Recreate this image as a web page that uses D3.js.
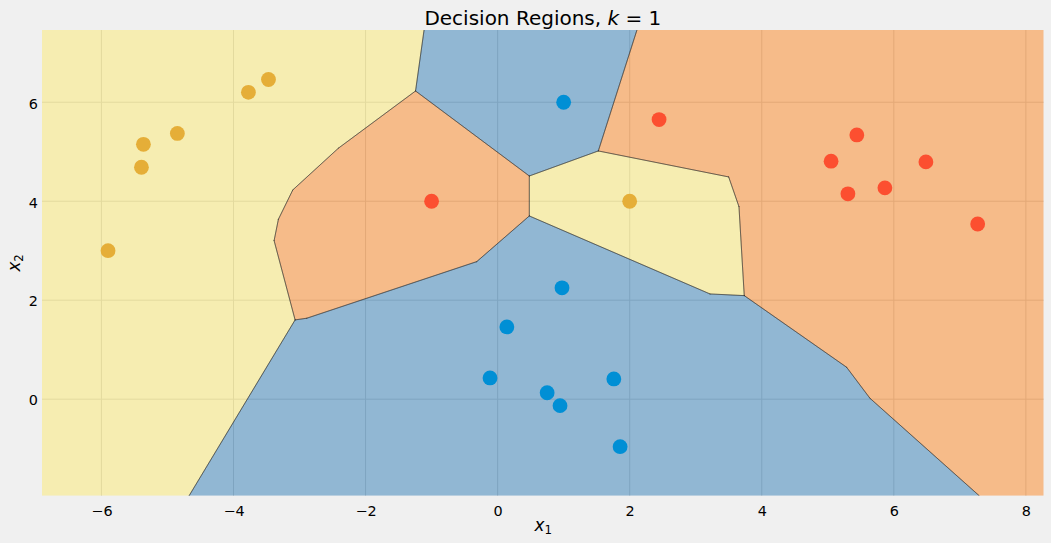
<!DOCTYPE html>
<html>
<head>
<meta charset="utf-8">
<script src="https://cdn.jsdelivr.net/npm/d3@7"></script>
<style>
    body { margin: 0; background: #f0f0f0; }
    svg { display: block; font-family: "DejaVu Sans"; }
</style>
</head>
<body>
<script>
const X_MIN = -6.9, X_MAX = 8.27, Y_MIN = -1.95, Y_MAX = 7.46;

const xTicks = [-6, -4, -2, 0, 2, 4, 6, 8];
const yTicks = [0, 2, 4, 6];

// decision regions (data coordinates)
const yellowLeft = [[X_MIN, Y_MAX], [-1.114, Y_MAX], [-1.243, 6.228], [-2.412, 5.071], [-3.102, 4.228], [-3.32, 3.636], [-3.385, 3.204], [-3.067, 1.602], [-4.672, Y_MIN], [X_MIN, Y_MIN]];
const blueTop = [[-1.114, Y_MAX], [-1.243, 6.228], [0.48, 4.51], [1.525, 5.016], [2.11, Y_MAX]];
const orangeMid = [[-1.243, 6.228], [0.48, 4.51], [0.48, 3.703], [-0.316, 2.78], [-2.89, 1.636], [-3.067, 1.602], [-3.385, 3.204], [-3.32, 3.636], [-3.102, 4.228], [-2.412, 5.071]];
const yellowMid = [[0.48, 4.51], [1.525, 5.016], [3.499, 4.491], [3.655, 3.891], [3.735, 2.093], [3.216, 2.127], [0.48, 3.703]];
const blueBottom = [[-3.067, 1.602], [-2.89, 1.636], [-0.316, 2.78], [0.48, 3.703], [3.216, 2.127], [3.735, 2.093], [5.285, 0.646], [5.638, 0.02], [7.293, Y_MIN], [-4.672, Y_MIN]];
const orangeRight = [[2.11, Y_MAX], [1.525, 5.016], [3.499, 4.491], [3.655, 3.891], [3.735, 2.093], [5.285, 0.646], [5.638, 0.02], [7.293, Y_MIN], [X_MAX, Y_MIN], [X_MAX, Y_MAX]];

const regions = [
    { points: yellowLeft, color: "rgb(252,234,114)" },
    { points: blueTop, color: "rgb(50,126,182)" },
    { points: orangeMid, color: "rgb(252,134,34)" },
    { points: yellowMid, color: "rgb(252,234,114)" },
    { points: blueBottom, color: "rgb(50,126,182)" },
    { points: orangeRight, color: "rgb(252,134,34)" },
];

// training points
const bluePoints = [[1, 6], [0.975, 2.25], [0.14, 1.46], [-0.115, 0.43], [0.75, 0.13], [0.945, -0.13], [1.76, 0.41], [1.855, -0.96]];
const redPoints = [[-1, 4], [2.445, 5.65], [5.05, 4.81], [5.44, 5.34], [5.305, 4.15], [5.865, 4.27], [6.486, 4.795], [7.27, 3.54]];
const yellowPoints = [[-5.9, 3], [-5.364, 5.15], [-5.394, 4.687], [-4.85, 5.37], [-3.774, 6.2], [-3.47, 6.46], [2, 4]];

const width = 1051, height = 543;
const left = 42, right = 1043.7, top_ = 30, bottom = 495.7;

const x = d3.scaleLinear().domain([X_MIN, X_MAX]).range([left, right]);
const y = d3.scaleLinear().domain([Y_MIN, Y_MAX]).range([bottom, top_]);

const svg = d3.select("body").append("svg")
    .attr("width", width)
    .attr("height", height);

svg.append("clipPath").attr("id", "plot-clip")
    .append("rect")
    .attr("x", left).attr("y", top_)
    .attr("width", right - left).attr("height", bottom - top_);

// grid sits under the translucent regions
let grid = svg.append("g").attr("stroke", "#cbcbcb").attr("stroke-width", 1);
grid.selectAll("line.v").data(xTicks).join("line").attr("class", "v")
    .attr("x1", d => x(d)).attr("x2", d => x(d))
    .attr("y1", top_).attr("y2", bottom);
grid.selectAll("line.h").data(yTicks).join("line").attr("class", "h")
    .attr("x1", left).attr("x2", right)
    .attr("y1", d => y(d)).attr("y2", d => y(d));

let line = d3.line().x(d => x(d[0])).y(d => y(d[1]));

let plot = svg.append("g").attr("clip-path", "url(#plot-clip)");

plot.selectAll("path.region").data(regions).join("path")
    .attr("class", "region")
    .attr("d", d => line(d.points) + "Z")
    .attr("fill", d => d.color)
    .attr("fill-opacity", 0.5);

// contour lines: every polygon edge except the ones lying on the frame
function onFrame(p) {
    return p[0] === X_MIN || p[0] === X_MAX || p[1] === Y_MIN || p[1] === Y_MAX;
}
let edges = [];
regions.forEach(r => {
    r.points.forEach((p, i) => {
        let q = r.points[(i + 1) % r.points.length];
        if (!(onFrame(p) && onFrame(q))) edges.push([p, q]);
    });
});
plot.selectAll("path.edge").data(edges).join("path")
    .attr("class", "edge")
    .attr("d", line)
    .attr("fill", "none")
    .attr("stroke", "#222")
    .attr("stroke-width", 0.4)
    .attr("stroke-linecap", "round");

function drawPoints(points, color) {
    plot.append("g").selectAll("circle").data(points).join("circle")
        .attr("cx", d => x(d[0]))
        .attr("cy", d => y(d[1]))
        .attr("r", 7.4)
        .attr("fill", color);
}
drawPoints(bluePoints, "#008fd5");
drawPoints(redPoints, "#fc4f30");
drawPoints(yellowPoints, "#e5ae38");

// axes
let xAxis = svg.append("g")
    .attr("transform", `translate(0,${bottom})`)
    .call(d3.axisBottom(x).tickValues(xTicks).tickSize(0).tickPadding(10));
let yAxis = svg.append("g")
    .attr("transform", `translate(${left},0)`)
    .call(d3.axisLeft(y).tickValues(yTicks).tickSize(0).tickPadding(4));
xAxis.select(".domain").remove();
yAxis.select(".domain").remove();
svg.selectAll(".tick text")
    .attr("font-family", "DejaVu Sans")
    .attr("font-size", 14.4)
    .attr("fill", "#000");
yAxis.selectAll(".tick text").attr("dy", "0.4em");

// title and math-style labels
let title = svg.append("text")
    .attr("x", (left + right) / 2).attr("y", 25)
    .attr("text-anchor", "middle")
    .attr("font-size", 20);
title.append("tspan").text("Decision Regions, ");
title.append("tspan").attr("font-style", "italic").text("k");
title.append("tspan").text(" = 1");

function mathLabel(sel, letter, sub) {
    sel.attr("text-anchor", "middle").attr("font-size", 16.8);
    sel.append("tspan").attr("font-style", "italic").text(letter);
    sel.append("tspan").attr("font-size", 11.8).attr("dy", 3).text(sub);
}
mathLabel(svg.append("text").attr("x", (left + right) / 2 + 0.5).attr("y", 531), "x", "1");
mathLabel(svg.append("text").attr("transform", `translate(20,${(top_ + bottom) / 2}) rotate(-90)`), "x", "2");
</script>
</body>
</html>
